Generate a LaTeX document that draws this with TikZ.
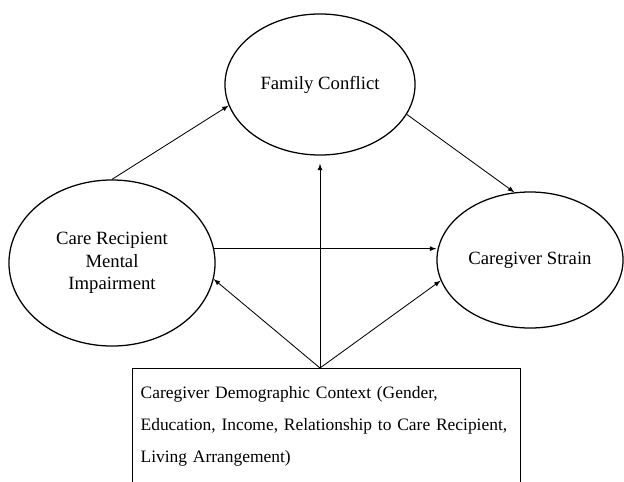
\documentclass[tikz,border=0pt]{standalone}
\usepackage{fontspec}
\setmainfont{Liberation Serif}
\usetikzlibrary{shapes.geometric}
\tikzset{>=latex}
\tikzset{
  factor/.style = {draw, ellipse, line width = 0.9pt, inner sep = 0pt, align = center,
                   font = \fontsize{13.3}{16}\selectfont},
  ctxbox/.style = {draw, rectangle, line width = 0.9pt, anchor = north west, align = left,
                   text width = 9.3cm, inner xsep = 0.2cm, inner ysep = 0.44cm,
                   font = \fontsize{12.4}{22.7}\selectfont},
  link/.style   = {->, line width = 0.6pt}
}

\begin{document}
\begin{tikzpicture}[x = 0.025cm, y = -0.025cm]
\path[use as bounding box, clip] (0, 0) rectangle (624, 481);
% the three factors
\node[factor, minimum width = 4.75cm, minimum height = 3.525cm] (fam)    at (320, 84.5) {Family Conflict};
\node[factor, minimum width = 5.15cm, minimum height = 4.15cm]  (care)   at (112, 263)  {Care Recipient\\ Mental\\ Impairment};
\node[factor, minimum width = 4.65cm, minimum height = 3.4cm]   (strain) at (530, 260)  {Caregiver Strain};
% context box, bottom runs off the page
\node[ctxbox] (ctx) at (132, 368) {Caregiver Demographic Context (Gender,\\ Education, Income, Relationship to Care Recipient,\\ Living Arrangement)\\ \mbox{}};
\coordinate (hub) at (ctx.north -| fam.south);
% paths
\draw[link] (care.north) -- (fam.193);
\draw[link] (fam.-19) -- (strain.103);
\draw[link] (care.8) -- (care.8 -| strain.west);
\draw[link, shorten > = 0.2cm] (hub) -- (fam.south);
\draw[link] (hub) -- (care.-9);
\draw[link] (hub) -- (strain.193);
\end{tikzpicture}
\end{document}
